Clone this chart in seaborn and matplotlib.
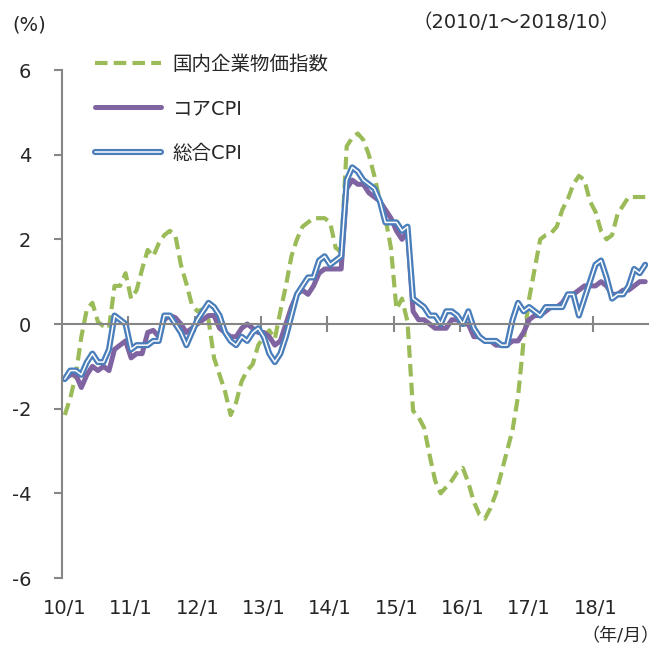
import numpy as np
import pandas as pd
import matplotlib
matplotlib.use('Agg')
import matplotlib.pyplot as plt
import matplotlib.patheffects as pe
import seaborn as sns

# monthly YoY (%), 2010/1 - 2018/10
cgpi = [
    -2.15, -1.75, -1.2, -0.3, 0.35, 0.5, 0.05, -0.05, -0.1, 0.9, 0.9, 1.2,
    0.6, 0.8, 1.3, 1.75, 1.6, 1.9, 2.1, 2.2, 2.1, 1.4, 0.95, 0.45,
    0.3, 0.35, 0.1, -0.8, -1.2, -1.6, -2.15, -1.85, -1.35, -1.1, -0.95, -0.5,
    -0.3, -0.15, -0.35, 0.3, 0.9, 1.6, 2.0, 2.3, 2.4, 2.5, 2.5, 2.5,
    2.4, 1.8, 1.7, 4.2, 4.4, 4.5, 4.35, 4.0, 3.5, 2.9, 2.5, 1.8,
    0.35, 0.6, 0.05, -2.05, -2.2, -2.45, -3.1, -3.7, -4.0, -3.85, -3.7, -3.5,
    -3.4, -3.75, -4.2, -4.5, -4.6, -4.35, -4.0, -3.5, -3.0, -2.5, -1.7, -0.4,
    0.6, 1.3, 2.0, 2.1, 2.15, 2.3, 2.7, 2.95, 3.3, 3.5, 3.4, 2.9,
    2.65, 2.2, 2.0, 2.1, 2.6, 2.8, 3.0, 3.0, 3.0, 3.0,
]
core_cpi = [
    -1.3, -1.2, -1.2, -1.5, -1.2, -1.0, -1.1, -1.0, -1.1, -0.6, -0.5, -0.4,
    -0.8, -0.7, -0.7, -0.2, -0.15, -0.3, 0.1, 0.2, 0.15, 0.0, -0.2, -0.1,
    0.0, 0.1, 0.2, 0.2, -0.1, -0.2, -0.3, -0.3, -0.1, 0.0, -0.1, -0.2,
    -0.2, -0.3, -0.5, -0.4, 0.0, 0.4, 0.7, 0.8, 0.7, 0.9, 1.2, 1.3,
    1.3, 1.3, 1.3, 3.2, 3.4, 3.3, 3.3, 3.1, 3.0, 2.9, 2.7, 2.5,
    2.2, 2.0, 2.2, 0.3, 0.1, 0.1, 0.0, -0.1, -0.1, -0.1, 0.1, 0.1,
    0.0, 0.0, -0.3, -0.3, -0.4, -0.4, -0.5, -0.5, -0.5, -0.4, -0.4, -0.2,
    0.1, 0.2, 0.2, 0.3, 0.4, 0.4, 0.5, 0.7, 0.7, 0.8, 0.9, 0.9,
    0.9, 1.0, 0.9, 0.7, 0.7, 0.8, 0.8, 0.9, 1.0, 1.0,
]
total_cpi = [
    -1.3, -1.1, -1.1, -1.2, -0.9, -0.7, -0.9, -0.9, -0.6, 0.2, 0.1, 0.0,
    -0.6, -0.5, -0.5, -0.5, -0.4, -0.4, 0.2, 0.2, 0.0, -0.2, -0.5, -0.2,
    0.1, 0.3, 0.5, 0.4, 0.2, -0.2, -0.4, -0.5, -0.3, -0.4, -0.2, -0.1,
    -0.3, -0.7, -0.9, -0.7, -0.3, 0.2, 0.7, 0.9, 1.1, 1.1, 1.5, 1.6,
    1.4, 1.5, 1.6, 3.4, 3.7, 3.6, 3.4, 3.3, 3.2, 2.9, 2.4, 2.4,
    2.4, 2.2, 2.3, 0.6, 0.5, 0.4, 0.2, 0.2, 0.0, 0.3, 0.3, 0.2,
    0.0, 0.3, -0.1, -0.3, -0.4, -0.4, -0.4, -0.5, -0.5, 0.1, 0.5, 0.3,
    0.4, 0.3, 0.2, 0.4, 0.4, 0.4, 0.4, 0.7, 0.7, 0.2, 0.6, 1.0,
    1.4, 1.5, 1.1, 0.6, 0.7, 0.7, 0.9, 1.3, 1.2, 1.4,
]
year_labels = ['10/1', '11/1', '12/1', '13/1', '14/1', '15/1', '16/1', '17/1', '18/1']
series_names = ['国内企業物価指数', 'コアCPI', '総合CPI']

df = pd.DataFrame({'month': np.arange(len(cgpi)), 'cgpi': cgpi,
                   'core': core_cpi, 'total': total_cpi})

sns.set_style('white')
plt.rcParams['font.family'] = ['DejaVu Sans', 'Noto Sans CJK JP']
plt.rcParams['axes.unicode_minus'] = False

green = '#9BBB59'
purple = '#8064A2'
blue = '#4A7EBB'
grey = '#868686'

fig = plt.figure(figsize=(6.62, 6.47), dpi=100)
ax = fig.add_axes([62/662, 1-578/647, 586/662, 508/647])

sns.lineplot(data=df, x='month', y='cgpi', ax=ax, color=green, linewidth=3.0,
             linestyle=(0, (3.0, 1.5)), label=series_names[0])
sns.lineplot(data=df, x='month', y='core', ax=ax, color=purple, linewidth=3.6,
             label=series_names[1], solid_joinstyle='round')
sns.lineplot(data=df, x='month', y='total', ax=ax, color='white', linewidth=1.1,
             label=series_names[2],
             path_effects=[pe.Stroke(linewidth=4.4, foreground=blue), pe.Normal()])

ax.set_xlim(-0.5, len(cgpi) - 0.5)
ax.set_ylim(-6, 6)
ax.set_yticks(range(-6, 7, 2))
ax.set_xlabel('')
ax.set_ylabel('')

for s in ['top', 'right']:
    ax.spines[s].set_visible(False)
ax.spines['left'].set_color(grey)
ax.spines['left'].set_linewidth(1.5)
ax.spines['bottom'].set_position(('data', 0))
ax.spines['bottom'].set_color(grey)
ax.spines['bottom'].set_linewidth(1.5)

# year boundary ticks on the zero line
ax.set_xticks(np.arange(11.5, len(cgpi), 12))
ax.tick_params(axis='x', direction='inout', length=11, width=1.5, color=grey,
               labelbottom=False, bottom=True)
ax.tick_params(axis='y', direction='out', length=6, width=1.5, color=grey,
               labelsize=14, pad=16, left=True)

# category labels along the bottom
sec = ax.secondary_xaxis('bottom')
sec.set_xticks(np.arange(0, len(cgpi), 12))
sec.set_xticklabels(year_labels)
sec.tick_params(length=0, labelsize=14, pad=15)
sec.spines['bottom'].set_visible(False)

handles = ax.get_lines()[:3]
ax.legend(handles=handles, labels=series_names, loc='upper left',
          bbox_to_anchor=(95/662, 1-55/647), bbox_transform=fig.transFigure,
          frameon=False, fontsize=14, borderpad=0, borderaxespad=0,
          handlelength=3.4, handletextpad=0.6, labelspacing=1.3)

fig.text(12/662, 1-25/647, '(%)', fontsize=14, va='center', ha='left')
fig.text(620/662, 1-23/647, '（2010/1～2018/10）', fontsize=14, va='center', ha='right')
fig.text(660/662, 1-636/647, '（年/月）', fontsize=13, va='center', ha='right')

fig.savefig('out.png', dpi=100)
